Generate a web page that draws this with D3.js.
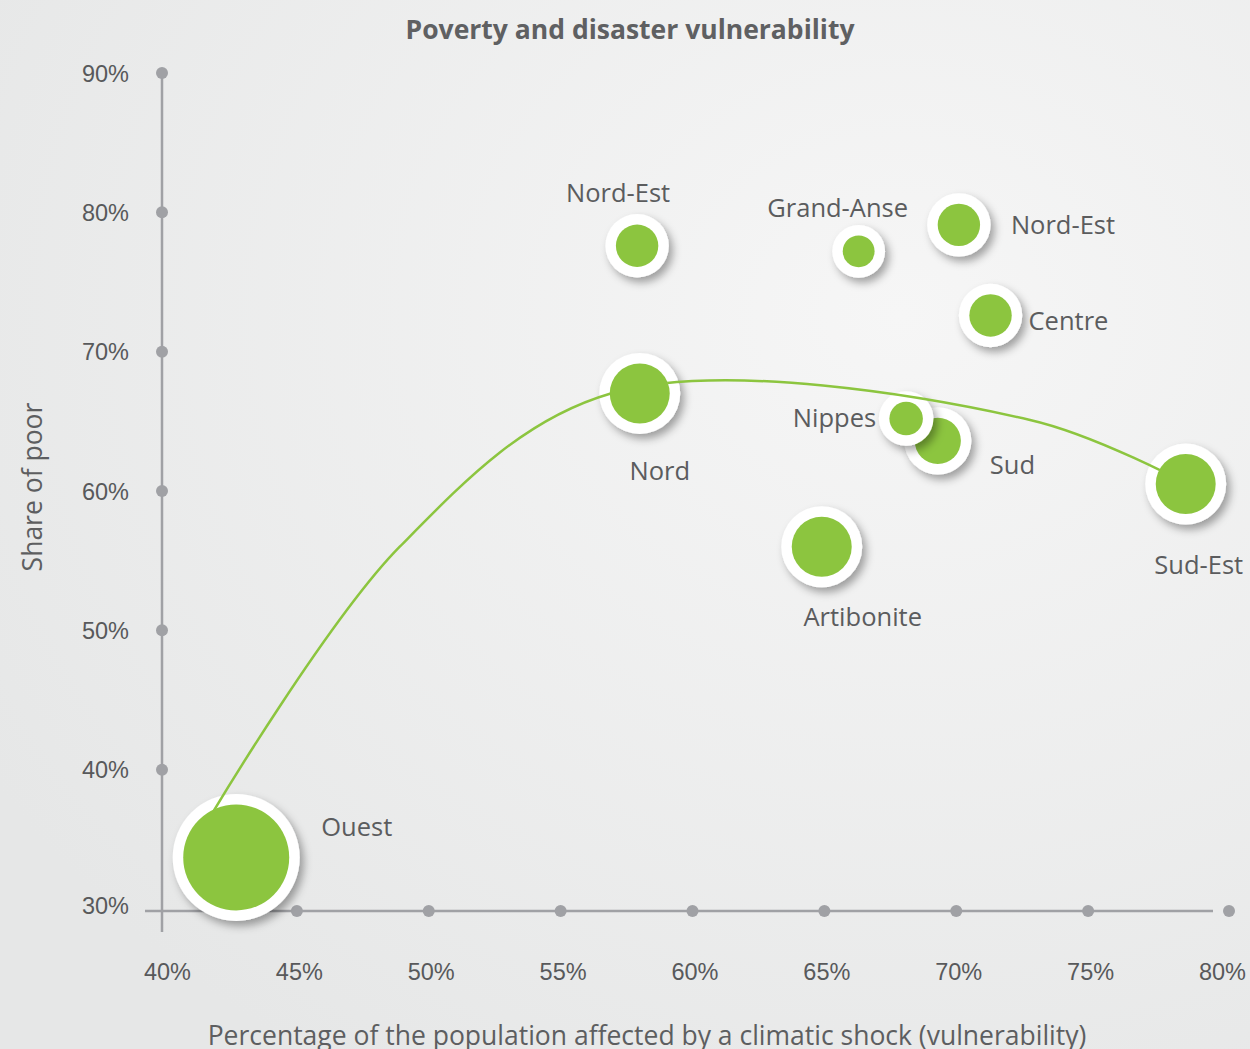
<!DOCTYPE html>
<html lang="en">
<head>
  <meta charset="utf-8">
  <title>Poverty and disaster vulnerability</title>
  <script src="https://d3js.org/d3.v7.min.js"></script>
  <style>
    body {
      margin: 0;
      background: #ececec;
      font-family: "Open Sans", "Noto Sans", sans-serif;
    }
    svg { display: block; }
    .tick-label {
      font-size: 23.5px;
      fill: #58595b;
    }
    .axis-title {
      font-size: 26.5px;
      fill: #5d5e60;
    }
    .region-label {
      font-size: 25.5px;
      fill: #5b5c5e;
    }
    .chart-title {
      font-size: 26.5px;
      font-weight: 700;
      fill: #5f6062;
    }
  </style>
</head>
<body>
  <div id="chart"></div>

  <script>
    // Data
    const regions = ["Ouest", "Nord", "Nord-Est", "Grand-Anse", "Nord-Est", "Centre", "Sud", "Nippes", "Sud-Est", "Artibonite"];
    const vulnerability = [42.7, 58.0, 57.9, 66.3, 70.1, 71.3, 69.3, 68.1, 78.7, 64.9];
    const poorShare = [33.7, 67.0, 77.6, 77.2, 79.1, 72.6, 63.6, 65.2, 60.5, 56.0];
    const bubbleSize = [100, 32, 16, 9, 16, 16, 19, 10, 32, 32];

    // Trend curve
    const trendX = [41.8, 48.9, 56.9, 72.8, 78.75];
    const trendY = [36.9, 56.0, 67.0, 65.1, 60.5];

    const xTicks = [40, 45, 50, 55, 60, 65, 70, 75, 80];
    const yTicks = [30, 40, 50, 60, 70, 80, 90];

    // Label placement relative to each bubble (layout only)
    const labelLayout = [
      { dx: 85, dy: -31, anchor: "start" },
      { dx: 20, dy: 77, anchor: "middle" },
      { dx: -19, dy: -54, anchor: "middle" },
      { dx: -21, dy: -44, anchor: "middle" },
      { dx: 52, dy: -1, anchor: "start" },
      { dx: 38, dy: 5, anchor: "start" },
      { dx: 52, dy: 23, anchor: "start" },
      { dx: -30, dy: -2, anchor: "end" },
      { dx: 13, dy: 80, anchor: "middle" },
      { dx: 41, dy: 69, anchor: "middle" }
    ];

    const width = 1250, height = 1049;
    const green = "#8cc53f";
    const axisGrey = "#a0a1a5";

    const x = d3.scaleLinear().domain([40, 80]).range([165, 1220]);
    const y = d3.scaleLinear().domain([30, 90]).range([909, 73]);
    const r = d3.scaleSqrt().domain([0, 100]).range([0, 53]);
    const ring = 10.5;

    const svg = d3.select("#chart")
      .append("svg")
      .attr("width", width)
      .attr("height", height);

    const defs = svg.append("defs");

    // Soft background
    const bg = defs.append("radialGradient")
      .attr("id", "bg")
      .attr("cx", "72%").attr("cy", "30%").attr("r", "85%");
    bg.append("stop").attr("offset", "0%").attr("stop-color", "#f6f6f6");
    bg.append("stop").attr("offset", "100%").attr("stop-color", "#e6e7e7");
    svg.append("rect")
      .attr("width", width).attr("height", height)
      .attr("fill", "url(#bg)");

    // Drop shadow for the white rings
    const shadow = defs.append("filter")
      .attr("id", "shadow")
      .attr("x", "-50%").attr("y", "-50%")
      .attr("width", "200%").attr("height", "200%");
    shadow.append("feDropShadow")
      .attr("dx", 4).attr("dy", 5)
      .attr("stdDeviation", 4)
      .attr("flood-color", "#000")
      .attr("flood-opacity", 0.35);

    const points = regions.map((name, i) => ({
      name,
      vx: vulnerability[i],
      vy: poorShare[i],
      size: bubbleSize[i],
      label: labelLayout[i]
    }));

    // Title
    svg.append("text")
      .attr("class", "chart-title")
      .attr("x", 630).attr("y", 29)
      .attr("text-anchor", "middle")
      .attr("dominant-baseline", "central")
      .text("Poverty and disaster vulnerability");

    // Axes lines
    svg.append("line")
      .attr("x1", x(40) - 3).attr("x2", x(40) - 3)
      .attr("y1", y(90)).attr("y2", y(30) + 23)
      .attr("stroke", axisGrey).attr("stroke-width", 2.5);
    svg.append("line")
      .attr("x1", x(40) - 20).attr("x2", x(80) - 7)
      .attr("y1", y(30) + 2).attr("y2", y(30) + 2)
      .attr("stroke", axisGrey).attr("stroke-width", 2.5);

    // Tick dots
    svg.append("g").selectAll("circle")
      .data(yTicks.filter(d => d > 30))
      .join("circle")
      .attr("cx", x(40) - 3).attr("cy", d => y(d))
      .attr("r", 6).attr("fill", axisGrey);
    svg.append("g").selectAll("circle")
      .data(xTicks.filter(d => d > 40))
      .join("circle")
      .attr("cx", d => d === 80 ? x(d) + 9 : x(d)).attr("cy", y(30) + 2)
      .attr("r", 6).attr("fill", axisGrey);

    // Tick labels via d3 axes
    const yAxis = svg.append("g")
      .attr("transform", `translate(129,0)`)
      .call(d3.axisLeft(y).tickValues(yTicks).tickSize(0).tickPadding(0).tickFormat(d => d + "%"));
    const xAxis = svg.append("g")
      .attr("transform", `translate(2,968)`)
      .call(d3.axisBottom(x).tickValues(xTicks).tickSize(0).tickPadding(0).tickFormat(d => d + "%"));
    [yAxis, xAxis].forEach(a => {
      a.select(".domain").remove();
      a.selectAll("text")
        .attr("class", "tick-label")
        .attr("font-family", null)
        .attr("font-size", null)
        .attr("fill", null);
    });
    yAxis.selectAll("text").attr("dy", "0.35em");
    xAxis.selectAll("text").attr("dy", "0.5em");
    yAxis.selectAll(".tick").filter(d => d === 30).select("text").attr("dy", "0.2em");

    // Axis titles
    svg.append("text")
      .attr("class", "axis-title")
      .attr("transform", "translate(32,487) rotate(-90)")
      .attr("text-anchor", "middle")
      .attr("dominant-baseline", "central")
      .text("Share of poor");
    svg.append("text")
      .attr("class", "axis-title")
      .attr("x", 647).attr("y", 1045)
      .attr("text-anchor", "middle")
      .text("Percentage of the population affected by a climatic shock (vulnerability)");

    // Bubbles: white ring with shadow, green core
    const bubbles = svg.append("g").selectAll("g")
      .data(points)
      .join("g")
      .attr("transform", d => `translate(${x(d.vx)},${y(d.vy)})`);
    bubbles.append("circle")
      .attr("r", d => r(d.size) + ring)
      .attr("fill", "#fff")
      .attr("filter", "url(#shadow)");
    bubbles.append("circle")
      .attr("r", d => r(d.size))
      .attr("fill", green);

    // Trend line, masked so it runs over the rings but under the green cores
    const mask = defs.append("mask").attr("id", "coreMask")
      .attr("maskUnits", "userSpaceOnUse")
      .attr("x", 0).attr("y", 0).attr("width", width).attr("height", height);
    mask.append("rect").attr("width", width).attr("height", height).attr("fill", "#fff");
    mask.selectAll("circle")
      .data(points)
      .join("circle")
      .attr("cx", d => x(d.vx)).attr("cy", d => y(d.vy))
      .attr("r", d => r(d.size) - 0.5)
      .attr("fill", "#000");

    const trend = trendX.map((v, i) => [v, trendY[i]]);
    svg.append("path")
      .datum(trend)
      .attr("d", d3.line().x(d => x(d[0])).y(d => y(d[1])).curve(d3.curveCatmullRom.alpha(0.5)))
      .attr("fill", "none")
      .attr("stroke", green)
      .attr("stroke-width", 2.5)
      .attr("mask", "url(#coreMask)");

    // Region labels
    svg.append("g").selectAll("text")
      .data(points)
      .join("text")
      .attr("class", "region-label")
      .attr("x", d => x(d.vx) + d.label.dx)
      .attr("y", d => y(d.vy) + d.label.dy)
      .attr("text-anchor", d => d.label.anchor)
      .attr("dominant-baseline", "central")
      .text(d => d.name);
  </script>
</body>
</html>
